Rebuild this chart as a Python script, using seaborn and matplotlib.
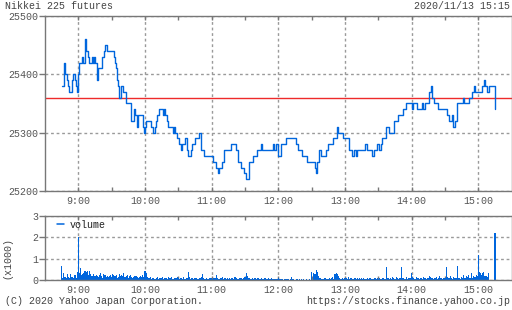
import numpy as np
import pandas as pd
import matplotlib
matplotlib.use("Agg")
import matplotlib.pyplot as plt
from matplotlib.lines import Line2D
from matplotlib.ticker import FixedLocator
import seaborn as sns

# ---------------- data ----------------
price_times = [
    "08:45", "08:47", "08:48", "08:50", "08:51", "08:52", "08:54", "08:55", "08:57", "08:58", "08:59",
    "09:00", "09:01", "09:03", "09:04", "09:06", "09:07", "09:09", "09:10", "09:12", "09:13", "09:14",
    "09:15", "09:17", "09:18", "09:21", "09:23", "09:24", "09:26", "09:32", "09:33", "09:34", "09:35",
    "09:36", "09:37", "09:38", "09:40", "09:43", "09:47", "09:50", "09:51", "09:53", "09:54", "09:58",
    "09:59", "10:00", "10:01", "10:05", "10:07", "10:09", "10:10", "10:11", "10:13", "10:16", "10:17",
    "10:18", "10:20", "10:21", "10:25", "10:26", "10:27", "10:29", "10:31", "10:32", "10:33", "10:36",
    "10:38", "10:39", "10:41", "10:42", "10:45", "10:49", "10:50", "10:53", "11:01", "11:04", "11:06",
    "11:07", "11:09", "11:11", "11:17", "11:22", "11:24", "11:26", "11:29", "11:31", "11:34", "11:37",
    "11:41", "11:44", "11:45", "11:55", "11:56", "11:58", "12:00", "12:02", "12:07", "12:16", "12:18",
    "12:21", "12:26", "12:33", "12:34", "12:35", "12:37", "12:38", "12:43", "12:45", "12:49", "12:53",
    "12:54", "12:58", "13:04", "13:06", "13:08", "13:10", "13:11", "13:18", "13:20", "13:24", "13:26",
    "13:29", "13:31", "13:32", "13:33", "13:37", "13:40", "13:44", "13:48", "13:52", "13:55", "14:00",
    "14:01", "14:05", "14:09", "14:10", "14:12", "14:16", "14:17", "14:18", "14:20", "14:24", "14:32",
    "14:34", "14:36", "14:37", "14:39", "14:41", "14:46", "14:47", "14:52", "14:54", "14:56", "14:57",
    "15:03", "15:05", "15:06", "15:08", "15:10", "15:15",
]
price_values = [
    25380, 25420, 25400, 25390, 25380, 25370, 25390, 25400, 25390, 25380, 25370,
    25400, 25420, 25430, 25420, 25460, 25440, 25430, 25420, 25430, 25420, 25430,
    25420, 25390, 25410, 25430, 25440, 25450, 25440, 25430, 25420, 25410, 25390,
    25380, 25360, 25380, 25370, 25350, 25320, 25340, 25330, 25310, 25330, 25310,
    25300, 25310, 25320, 25310, 25300, 25310, 25320, 25330, 25340, 25330, 25340,
    25330, 25320, 25310, 25300, 25310, 25300, 25290, 25280, 25270, 25280, 25290,
    25270, 25260, 25270, 25280, 25290, 25300, 25270, 25260, 25250, 25240, 25230,
    25240, 25250, 25270, 25280, 25270, 25250, 25240, 25230, 25220, 25250, 25260,
    25270, 25280, 25270, 25280, 25270, 25280, 25260, 25280, 25290, 25280, 25270,
    25260, 25250, 25240, 25230, 25250, 25270, 25260, 25270, 25280, 25290, 25310,
    25300, 25290, 25270, 25260, 25270, 25260, 25270, 25280, 25270, 25260, 25270,
    25280, 25270, 25280, 25290, 25310, 25300, 25320, 25330, 25340, 25350, 25340,
    25350, 25340, 25350, 25340, 25350, 25370, 25380, 25360, 25350, 25340, 25330,
    25320, 25330, 25310, 25320, 25350, 25360, 25350, 25360, 25370, 25380, 25370,
    25380, 25390, 25380, 25370, 25380, 25340,
]
prev_close = 25360

volume_start = "08:45"
volume_values = [  # contracts per minute, 08:45 .. 15:15
    670, 110, 360, 150, 90, 270, 140, 120, 290, 170, 150, 130, 260, 110, 400,
    2030, 330, 560, 240, 310, 350, 420, 380, 430, 260, 440, 300, 200, 180, 270,
    210, 260, 200, 150, 230, 350, 190, 120, 300, 260, 140, 200, 170, 210, 240,
    150, 280, 230, 190, 260, 120, 170, 290, 210, 240, 180, 320, 150, 200, 260,
    120, 190, 240, 150, 100, 160, 210, 180, 150, 90, 170, 200, 140, 260, 170,
    410, 320, 150, 120, 90, 140, 70, 130, 100, 60, 110, 140, 80, 120, 100,
    90, 150, 60, 110, 130, 70, 160, 120, 100, 140, 80, 60, 130, 90, 150,
    110, 70, 130, 90, 60, 140, 80, 100, 120, 370, 150, 60, 90, 110, 70,
    100, 130, 80, 60, 120, 90, 140, 280, 110, 70, 100, 60, 80, 130, 90,
    120, 70, 90, 110, 250, 130, 60, 80, 120, 90, 140, 70, 100, 60, 110,
    80, 130, 60, 90, 110, 70, 140, 120, 80, 60, 100, 90, 130, 70, 110,
    150, 330, 200, 90, 120, 60, 80, 110, 70, 100, 60, 90, 120, 80, 60,
    100, 70, 50, 90, 60, 80, 110, 70, 50, 90, 60, 40, 80, 70, 60,
    110, 60, 40, 70, 50, 30, 60, 80, 40, 60, 30, 50, 160, 40, 60,
    30, 50, 40, 20, 60, 30, 40, 20, 50, 30, 40, 20, 30, 40, 20,
    400, 30, 350, 280, 480, 400, 200, 90, 120, 60, 80, 40, 90, 60, 40,
    70, 110, 60, 90, 150, 60, 280, 350, 300, 210, 120, 80, 60, 110, 70,
    130, 90, 70, 140, 60, 110, 90, 50, 80, 120, 60, 90, 70, 110, 60,
    90, 60, 120, 80, 70, 130, 60, 90, 110, 70, 60, 80, 100, 70, 90,
    60, 110, 80, 70, 120, 90, 60, 630, 110, 90, 70, 120, 80, 140, 100,
    80, 150, 90, 70, 110, 130, 600, 90, 120, 60, 140, 80, 100, 130, 90,
    350, 160, 110, 80, 140, 90, 120, 70, 100, 130, 80, 150, 90, 60, 110,
    130, 210, 160, 90, 120, 80, 100, 150, 70, 110, 200, 90, 130, 80, 120,
    100, 600, 150, 90, 130, 220, 100, 70, 140, 90, 110, 670, 90, 130, 80,
    150, 90, 230, 110, 180, 140, 260, 120, 90, 330, 110, 200, 150, 260, 180,
    1170, 380, 330, 250, 340, 400, 180, 220, 150, 350, 0, 0, 0, 0, 0,
    2190,
]

hour_labels = ["9:00", "10:00", "11:00", "12:00", "13:00", "14:00", "15:00"]
price_ticks = [25200, 25300, 25400, 25500]
volume_ticks = [0, 1, 2, 3]
title_text = "Nikkei 225 futures"
date_text = "2020/11/13 15:15"
copyright_text = "(C) 2020 Yahoo Japan Corporation."
url_text = "https://stocks.finance.yahoo.co.jp"
legend_label = "volume"
volume_unit = "(x1000)"


def to_min(s):
    h, m = s.split(":")
    return int(h) * 60 + int(m)


price_df = pd.DataFrame({"t": [to_min(s) for s in price_times], "price": price_values})
v0 = to_min(volume_start)
vol_df = pd.DataFrame({"t": v0 + np.arange(len(volume_values)),
                       "vol": np.array(volume_values) / 1000.0})

# ---------------- style ----------------
sns.set_theme(style="white")
plt.rcParams["font.family"] = ["Liberation Mono", "DejaVu Sans Mono"]
FS = 7.2
TXT = "#444444"
TICK = "#555555"
BLUE = "#0066dd"
RED = "#ee2a2a"
GRID = "#9a9a9a"
SPINE = "#777777"

W, H = 512, 310
fig = plt.figure(figsize=(W / 100, H / 100), dpi=100)


def box(l, t, r, b):
    return [l / W, 1 - b / H, (r - l) / W, (b - t) / H]


ax = fig.add_axes(box(45, 16, 511.7, 191))
axv = fig.add_axes(box(45, 215.7, 511.7, 280.3))

xmin, xmax = to_min("08:30"), to_min("15:30")
hour_pos = [to_min(h) for h in hour_labels]
half_pos = [to_min("08:30")] + [p + 30 for p in hour_pos]

# price line
sns.lineplot(data=price_df, x="t", y="price", ax=ax, color=BLUE, lw=1.0,
             drawstyle="steps-post", estimator=None, sort=False, zorder=3)
ax.axhline(prev_close, color=RED, lw=1.0, zorder=2)

# volume bars
sns.barplot(data=vol_df, x="t", y="vol", native_scale=True, width=1.0,
            errorbar=None, ax=axv, color=BLUE, saturation=1, linewidth=0,
            edgecolor="none", zorder=3)
for p in axv.patches:
    p.set_antialiased(False)

for a, ylim, yt in [(ax, (25200, 25500), price_ticks), (axv, (0, 3), volume_ticks)]:
    a.set_xlim(xmin, xmax)
    a.set_ylim(*ylim)
    a.set_xlabel("")
    a.set_ylabel("")
    a.xaxis.set_major_locator(FixedLocator(hour_pos))
    a.xaxis.set_minor_locator(FixedLocator([m for m in half_pos if xmin < m < xmax]))
    a.set_xticklabels(hour_labels)
    a.set_yticks(yt)
    a.set_yticklabels([str(v) for v in yt])
    a.grid(True, which="major", color=GRID, linestyle=(0, (2, 2)), lw=1.0)
    a.set_axisbelow(True)
    a.tick_params(axis="x", which="both", direction="in", top=True, bottom=True,
                  length=3, width=1, color=SPINE, labelsize=FS, labelcolor=TICK, pad=3.5)
    a.tick_params(axis="y", which="major", direction="out", left=True, length=4,
                  width=1, color=SPINE, labelsize=FS, labelcolor=TICK, pad=1)
    for sp in a.spines.values():
        sp.set_color(SPINE)
        sp.set_linewidth(1.0)
        sp.set_visible(True)
        sp.set_zorder(5)

# legend
axv.legend(handles=[Line2D([], [], color=BLUE, lw=1.1)], labels=[legend_label],
           loc="center left", bbox_to_anchor=(12 / 466.7, 1 - 9.3 / 64.6),
           frameon=False, handlelength=0.7, handletextpad=0.6, borderpad=0,
           borderaxespad=0, prop={"size": FS}, labelcolor="#222222")

# texts
fig.text(5 / W, 1 - 6 / H, title_text, ha="left", va="center", fontsize=FS, color=TXT)
fig.text(510.5 / W, 1 - 6 / H, date_text, ha="right", va="center", fontsize=FS, color=TXT)
fig.text(5 / W, 1 - 301.5 / H, copyright_text, ha="left", va="center", fontsize=FS, color=TXT)
fig.text(510.5 / W, 1 - 301.5 / H, url_text, ha="right", va="center", fontsize=FS, color=TXT)
fig.text(7 / W, 1 - 258 / H, volume_unit, ha="center", va="center", rotation=90,
         fontsize=FS, color=TXT)

fig.savefig("out.png", dpi=100, facecolor="white")
